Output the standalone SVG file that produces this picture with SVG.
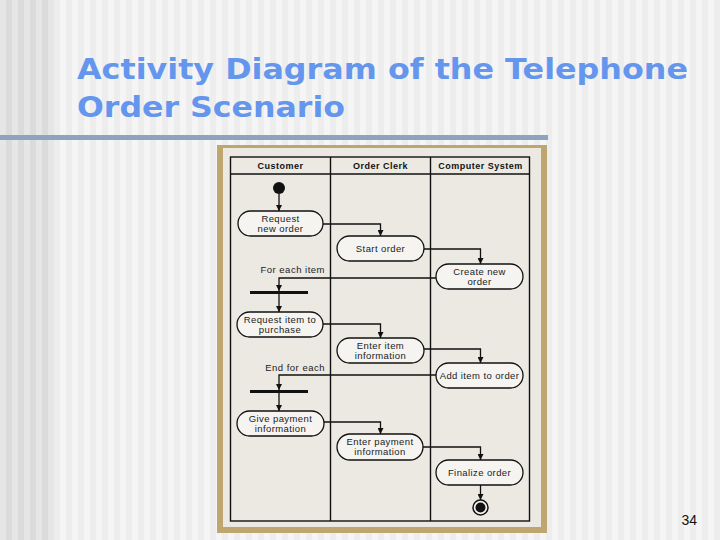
<svg xmlns="http://www.w3.org/2000/svg" width="720" height="540" viewBox="0 0 720 540">
<defs>
  <pattern id="stripes" x="0" y="0" width="12" height="540" patternUnits="userSpaceOnUse">
    <rect x="0" y="0" width="6" height="540" fill="#f5f5f5"/>
    <rect x="6" y="0" width="6" height="540" fill="#ededed"/>
  </pattern>
  <pattern id="stripesDark" x="0" y="0" width="12" height="540" patternUnits="userSpaceOnUse">
    <rect x="0" y="0" width="6" height="540" fill="#e6e6e6"/>
    <rect x="6" y="0" width="6" height="540" fill="#dbdbdb"/>
  </pattern>
  <marker id="arr" viewBox="0 0 10 10" refX="10" refY="5" markerWidth="6" markerHeight="6" markerUnits="userSpaceOnUse" orient="auto">
    <path d="M0,0 L10,5 L0,10 z" fill="#111"/>
  </marker>
  <style>
    .title{font-family:"DejaVu Sans",Verdana,sans-serif;font-weight:bold;font-size:29px;fill:#6496ee}
    .hdr{font-family:"Liberation Sans",Arial,sans-serif;font-weight:bold;font-size:9px;fill:#111;text-anchor:middle;letter-spacing:0.5px}
    .lbl{font-family:"Liberation Sans",Arial,sans-serif;font-size:9.5px;fill:#222;text-anchor:middle;letter-spacing:0.4px}
    .note{font-family:"Liberation Sans",Arial,sans-serif;font-size:9.5px;fill:#222;text-anchor:end;letter-spacing:0.5px}
    .act{fill:#f5f4f1;stroke:#111;stroke-width:1.3}
    .lane{fill:none;stroke:#111;stroke-width:1.4}
    .conn{fill:none;stroke:#111;stroke-width:1.3;marker-end:url(#arr)}
    .bar{fill:#111}
  </style>
</defs>

<!-- background -->
<rect x="0" y="0" width="720" height="540" fill="url(#stripes)"/>
<rect x="0" y="0" width="54" height="540" fill="url(#stripesDark)"/>

<!-- title -->
<text class="title" x="77" y="79" textLength="611" lengthAdjust="spacingAndGlyphs">Activity Diagram of the Telephone</text>
<text class="title" x="77" y="117" textLength="268" lengthAdjust="spacingAndGlyphs">Order Scenario</text>

<!-- rule -->
<rect x="0" y="135" width="548" height="5" fill="#8da3bf"/>

<!-- frame -->
<rect x="217" y="145" width="330" height="388" fill="#bfa56f"/>
<rect x="223" y="148" width="318" height="379" fill="#ece9e2"/>

<!-- swimlanes -->
<g id="swimlanes">
  <rect x="230.5" y="157" width="299" height="364" fill="#e8e5de" class="lane"/>
  <line class="lane" x1="230.5" y1="174" x2="529.5" y2="174"/>
  <line class="lane" x1="330.5" y1="157" x2="330.5" y2="521"/>
  <line class="lane" x1="430.5" y1="157" x2="430.5" y2="521"/>
  <text class="hdr" x="280.5" y="169">Customer</text>
  <text class="hdr" x="380.5" y="169">Order Clerk</text>
  <text class="hdr" x="480.5" y="169">Computer System</text>
</g>

<!-- connectors -->
<g id="connectors">
  <path class="conn" d="M279,194 L279,211"/>
  <path class="conn" d="M323,224 L380.5,224 L380.5,236"/>
  <path class="conn" d="M424,249 L480.5,249 L480.5,264"/>
  <path class="conn" d="M436,278 L279,278 L279,291"/>
  <path class="conn" d="M279,294 L279,312"/>
  <path class="conn" d="M323,324 L380.5,324 L380.5,338"/>
  <path class="conn" d="M424,349 L480.5,349 L480.5,363"/>
  <path class="conn" d="M436,375 L279,375 L279,390"/>
  <path class="conn" d="M279,393 L279,411"/>
  <path class="conn" d="M324,422 L380.5,422 L380.5,434"/>
  <path class="conn" d="M423,447 L480.5,447 L480.5,460"/>
  <path class="conn" d="M480.5,485 L480.5,500"/>
</g>

<g id="start"><circle cx="279" cy="188" r="6" fill="#111"/></g>

<g id="request-new-order">
  <rect class="act" x="238" y="211" width="85" height="25" rx="12.5"/>
  <text class="lbl" x="280.5" y="221.5">Request</text>
  <text class="lbl" x="280.5" y="231.5">new order</text>
</g>

<g id="start-order">
  <rect class="act" x="337" y="236" width="87" height="25" rx="12.5"/>
  <text class="lbl" x="380.5" y="252">Start order</text>
</g>

<g id="create-new-order">
  <rect class="act" x="436" y="264" width="87" height="25" rx="12.5"/>
  <text class="lbl" x="479.5" y="275">Create new</text>
  <text class="lbl" x="479.5" y="285">order</text>
</g>

<g id="for-each-item">
  <text class="note" x="325" y="273">For each item</text>
  <rect class="bar" x="250" y="291" width="58" height="3"/>
</g>

<g id="request-item">
  <rect class="act" x="237" y="312" width="86" height="25" rx="12.5"/>
  <text class="lbl" x="280" y="323">Request item to</text>
  <text class="lbl" x="280" y="333">purchase</text>
</g>

<g id="enter-item">
  <rect class="act" x="337" y="338" width="87" height="25" rx="12.5"/>
  <text class="lbl" x="380.5" y="349">Enter item</text>
  <text class="lbl" x="380.5" y="359">information</text>
</g>

<g id="add-item">
  <rect class="act" x="436" y="363" width="87" height="25" rx="12.5"/>
  <text class="lbl" x="479.5" y="379">Add item to order</text>
</g>

<g id="end-for-each">
  <text class="note" x="325" y="371">End for each</text>
  <rect class="bar" x="250" y="390" width="58" height="3"/>
</g>

<g id="give-payment">
  <rect class="act" x="237" y="411" width="87" height="25" rx="12.5"/>
  <text class="lbl" x="280.5" y="422">Give payment</text>
  <text class="lbl" x="280.5" y="432">information</text>
</g>

<g id="enter-payment">
  <rect class="act" x="337" y="434" width="86" height="26" rx="13"/>
  <text class="lbl" x="380" y="445">Enter payment</text>
  <text class="lbl" x="380" y="455">information</text>
</g>

<g id="finalize-order">
  <rect class="act" x="436" y="460" width="87" height="25" rx="12.5"/>
  <text class="lbl" x="479.5" y="476">Finalize order</text>
</g>

<g id="end">
  <circle cx="480.5" cy="507.5" r="7.5" fill="#f5f4f1" stroke="#111" stroke-width="1.5"/>
  <circle cx="480.5" cy="507.5" r="5" fill="#111"/>
</g>

<text x="697" y="525" font-family="'Liberation Sans',Arial,sans-serif" font-size="14" fill="#111" text-anchor="end">34</text>
</svg>
